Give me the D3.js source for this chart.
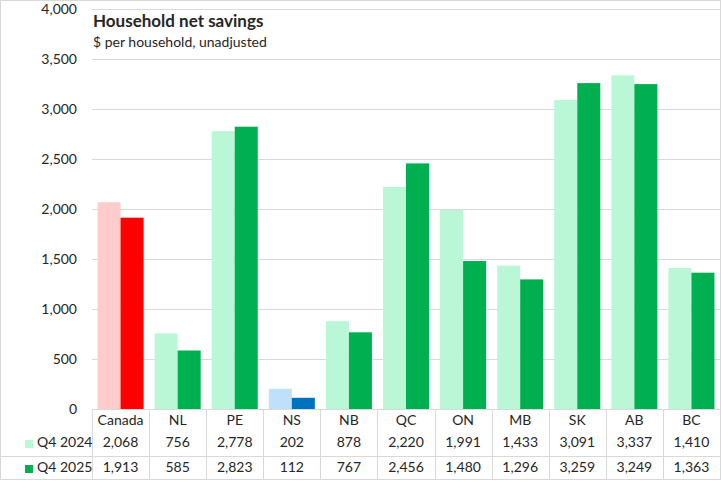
<!DOCTYPE html>
<html>
<head>
<meta charset="utf-8">
<script src="https://cdn.jsdelivr.net/npm/d3@7"></script>
<style>
  body { margin: 0; background: #fff; }
  text { font-family: Lato, "Open Sans", sans-serif; fill: #262626; }
</style>
</head>
<body>
<div id="chart"></div>
<script>
var categories = ["Canada", "NL", "PE", "NS", "NB", "QC", "ON", "MB", "SK", "AB", "BC"];
var seriesNames = ["Q4 2024", "Q4 2025"];
var q4_2024 = [2068, 756, 2778, 202, 878, 2220, 1991, 1433, 3091, 3337, 1410];
var q4_2025 = [1913, 585, 2823, 112, 767, 2456, 1480, 1296, 3259, 3249, 1363];
var yTicks = [0, 500, 1000, 1500, 2000, 2500, 3000, 3500, 4000];

var W = 721, H = 481;
var plot = {left: 92, right: 720, top: 9, bottom: 409};
var gridColor = "#d9d9d9";

// colours: Canada red, NS blue, the rest green
var palette = {
  Canada: ["#ffcccc", "#ff0000"],
  NS: ["#bfe0fa", "#0070c0"],
  other: ["#b9f7d6", "#00b050"]
};
function colourOf(cat, i) {
  return (palette[cat] || palette.other)[i];
}

var svg = d3.select("#chart")
  .append("svg")
    .attr("width", W)
    .attr("height", H);

var x0 = d3.scaleBand()
  .domain(categories)
  .range([plot.left, plot.right])
  .padding(0);

var x1 = d3.scaleBand()
  .domain(seriesNames)
  .range([0, x0.bandwidth()])
  .paddingInner(0)
  .paddingOuter(0.24);

var y = d3.scaleLinear()
  .domain([0, 4000])
  .range([plot.bottom, plot.top]);

// gridlines + y labels
var yAxis = svg.append("g")
  .attr("transform", "translate(" + plot.left + ",0)")
  .call(d3.axisLeft(y)
    .tickValues(yTicks)
    .tickSize(-(plot.right - plot.left))
    .tickPadding(15)
    .tickFormat(d3.format(",")));
yAxis.select(".domain").remove();
yAxis.selectAll(".tick line").attr("stroke", gridColor);
yAxis.selectAll(".tick text")
  .attr("font-size", "14px")
  .attr("fill", "#262626")
  .style("font-family", "Lato, sans-serif");

// bars
var rows = categories.map(function(c, i) {
  return {cat: c, values: [q4_2024[i], q4_2025[i]]};
});

var groups = svg.append("g").selectAll("g")
  .data(rows)
  .enter()
  .append("g")
    .attr("transform", function(d) { return "translate(" + x0(d.cat) + ",0)"; });

groups.selectAll("rect")
  .data(function(d) {
    return d.values.map(function(v, i) { return {cat: d.cat, i: i, v: v}; });
  })
  .enter()
  .append("rect")
    .attr("x", function(d) { return x1(seriesNames[d.i]); })
    .attr("y", function(d) { return y(d.v); })
    .attr("width", x1.bandwidth())
    .attr("height", function(d) { return y(0) - y(d.v); })
    .attr("fill", function(d) { return colourOf(d.cat, d.i); });

// data table
var rowY = [425, 447, 472];
var table = svg.append("g");

table.append("line")
  .attr("x1", plot.left).attr("x2", plot.right)
  .attr("y1", plot.bottom + 0.5).attr("y2", plot.bottom + 0.5)
  .attr("stroke", gridColor);
[456.5, 479.5].forEach(function(yy) {
  table.append("line")
    .attr("x1", 0).attr("x2", plot.right)
    .attr("y1", yy).attr("y2", yy)
    .attr("stroke", gridColor);
});
categories.concat(["end"]).forEach(function(c, i) {
  var xx = Math.round(plot.left + i * x0.step()) + 0.5;
  table.append("line")
    .attr("x1", xx).attr("x2", xx)
    .attr("y1", plot.bottom).attr("y2", 480)
    .attr("stroke", gridColor);
});

table.selectAll(".cat")
  .data(categories)
  .enter()
  .append("text")
    .attr("x", function(d) { return x0(d) + x0.bandwidth() / 2; })
    .attr("y", rowY[0])
    .attr("text-anchor", "middle")
    .attr("font-size", "14px")
    .text(function(d) { return d; });

[q4_2024, q4_2025].forEach(function(vals, s) {
  table.selectAll(".val" + s)
    .data(vals)
    .enter()
    .append("text")
      .attr("x", function(d, i) { return x0(categories[i]) + x0.bandwidth() / 2; })
      .attr("y", rowY[s + 1])
      .attr("text-anchor", "middle")
      .attr("font-size", "14px")
      .text(function(d) { return d3.format(",")(d); });

  table.append("rect")
    .attr("x", 25)
    .attr("y", rowY[s + 1] - 7)
    .attr("width", 8)
    .attr("height", 8)
    .attr("fill", palette.other[s]);
  table.append("text")
    .attr("x", 37)
    .attr("y", rowY[s + 1])
    .attr("font-size", "14px")
    .text(seriesNames[s]);
});

// titles
svg.append("text")
  .attr("x", 93)
  .attr("y", 27)
  .attr("font-size", "17px")
  .attr("font-weight", "bold")
  .attr("fill", "#000")
  .text("Household net savings");
svg.append("text")
  .attr("x", 93)
  .attr("y", 47)
  .attr("font-size", "14px")
  .attr("fill", "#000")
  .text("$ per household, unadjusted");

// outer chart border
svg.append("rect")
  .attr("x", 0.5).attr("y", 0.5)
  .attr("width", 720).attr("height", 479)
  .attr("fill", "none")
  .attr("stroke", gridColor);
</script>
</body>
</html>
